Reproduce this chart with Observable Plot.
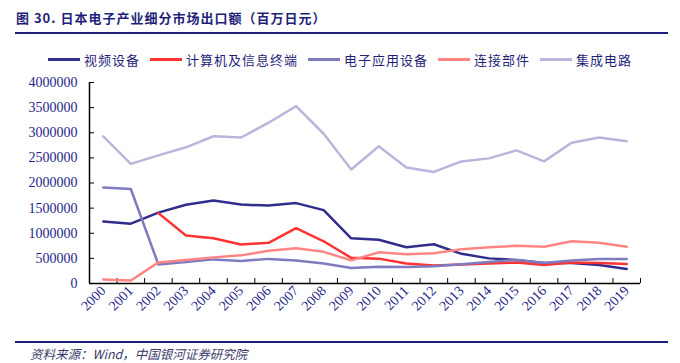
<!DOCTYPE html>
<html>
<head>
<meta charset="utf-8">
<script src="https://cdn.jsdelivr.net/npm/d3@7"></script>
<script src="https://cdn.jsdelivr.net/npm/@observablehq/plot@0.6"></script>
<style>
  html, body { margin: 0; padding: 0; background: #fff; }
  #wrap { position: relative; width: 680px; height: 363px; overflow: hidden; }
  #title { position: absolute; left: 16px; top: 8px; font: bold 13px "Noto Sans CJK SC", sans-serif; letter-spacing: 1px; color: #1f1f7a; white-space: nowrap; }
  #topline { position: absolute; left: 15px; top: 32px; width: 653px; height: 2px; background: #1f1f7a; }
  #legend { position: absolute; left: 0; top: 50px; width: 680px; display: flex; justify-content: center; gap: 10px; font: 13px "Noto Sans CJK SC", sans-serif; letter-spacing: 1px; color: #1f1f7a; }
  .item { display: flex; align-items: center; gap: 4px; white-space: nowrap; }
  .sw { width: 32px; height: 3px; }
  #chart { position: absolute; left: 0; top: 68px; }
  #botline { position: absolute; left: 15px; top: 341px; width: 653px; height: 2px; background: #1f1f7a; }
  #source { position: absolute; left: 30px; top: 347px; line-height: 14px; font: italic 12.5px/14px "Noto Sans CJK SC", sans-serif; color: #3a3a6a; white-space: nowrap; }
</style>
</head>
<body>
<div id="wrap">
  <div id="title">图 30. 日本电子产业细分市场出口额（百万日元）</div>
  <div id="topline"></div>
  <div id="legend"></div>
  <div id="chart"></div>
  <div id="botline"></div>
  <div id="source">资料来源：Wind，中国银河证券研究院</div>
</div>
<script>
const years = [2000,2001,2002,2003,2004,2005,2006,2007,2008,2009,2010,2011,2012,2013,2014,2015,2016,2017,2018,2019];
const seriesNames = ["视频设备", "计算机及信息终端", "电子应用设备", "连接部件", "集成电路"];
const seriesColors = ["#302d8c", "#ff3333", "#7e7bbf", "#ff8585", "#b9b6dd"];
const video = [1234000,1190000,1410000,1566000,1650000,1570000,1550000,1600000,1460000,900000,870000,720000,780000,590000,500000,470000,410000,410000,370000,290000];
const computer = [null,null,1400000,955000,900000,776000,810000,1100000,840000,510000,495000,400000,360000,380000,400000,420000,370000,420000,410000,390000];
const appliance = [1910000,1880000,378000,430000,480000,450000,490000,460000,400000,310000,335000,330000,345000,385000,430000,470000,410000,460000,490000,490000];
const connectors = [80000,60000,420000,470000,520000,560000,650000,700000,630000,460000,620000,580000,600000,680000,720000,750000,730000,840000,810000,730000];
const ic = [2930000,2380000,2550000,2710000,2930000,2905000,3200000,3530000,2980000,2270000,2730000,2310000,2220000,2430000,2490000,2650000,2430000,2800000,2905000,2830000];
const yTicks = [0,500000,1000000,1500000,2000000,2500000,3000000,3500000,4000000];

const allSeries = [video, computer, appliance, connectors, ic];
const data = [];
allSeries.forEach((vals, s) => vals.forEach((v, i) => {
  if (v != null) data.push({year: years[i], value: v, name: seriesNames[s]});
}));
const boundaries = years.map(y => y - 0.5).concat([years[years.length - 1] + 0.5]);

// legend
const legend = document.getElementById("legend");
seriesNames.forEach((n, i) => {
  const it = document.createElement("div");
  it.className = "item";
  it.innerHTML = `<span class="sw" style="background:${seriesColors[i]}"></span><span>${n}</span>`;
  legend.appendChild(it);
});

const navy = "#1f1f8a";
const chart = Plot.plot({
  width: 680,
  height: 270,
  marginLeft: 89,
  marginRight: 40,
  marginTop: 14,
  marginBottom: 55,
  style: {fontFamily: '"Times New Roman", "Liberation Serif", serif', fontSize: "14px", background: "transparent"},
  x: {type: "linear", domain: [boundaries[0], boundaries[boundaries.length - 1]]},
  y: {domain: [0, 4000000]},
  color: {domain: seriesNames, range: seriesColors},
  marks: [
    Plot.axisY({ticks: yTicks, tickSize: -5, tickFormat: () => "", color: "#000", label: null}),
    Plot.axisY({ticks: yTicks, tickSize: 0, tickPadding: 12, tickFormat: d3.format("d"), color: navy, label: null}),
    Plot.axisX({ticks: boundaries, tickSize: -5, tickFormat: () => "", color: "#000", label: null}),
    Plot.axisX({ticks: years, tickSize: 0, tickPadding: 5, tickRotate: -45, tickFormat: d => String(d), color: navy, label: null}),
    Plot.ruleX([boundaries[0]], {stroke: "#000", strokeWidth: 1.5}),
    Plot.ruleY([0], {stroke: "#000", strokeWidth: 1.5}),
    Plot.line(data, {x: "year", y: "value", z: "name", stroke: "name", strokeWidth: 2.5})
  ]
});
document.getElementById("chart").appendChild(chart);
</script>
</body>
</html>
